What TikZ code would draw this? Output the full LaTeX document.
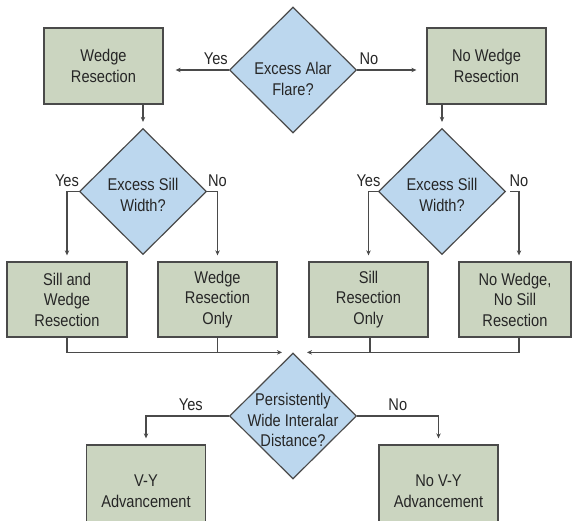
\documentclass[tikz,border=0pt]{standalone}
\usepackage{fontspec}
\setmainfont{Liberation Sans}[FakeStretch=0.86]
\usepackage{tikz}
\usetikzlibrary{shapes.geometric,arrows.meta}

\definecolor{boxgreen}{HTML}{CBD5C0}
\definecolor{diablue}{HTML}{BCD7EE}
\definecolor{edgegray}{HTML}{4A4A4A}
\definecolor{inkgray}{HTML}{262626}

\begin{document}
\begin{tikzpicture}[x=1pt, y=-1pt,
  font=\fontsize{17}{20.5}\selectfont, text=inkgray,
  box/.style={rectangle, draw=edgegray, line width=1.3pt, fill=boxgreen,
    minimum width=119pt, minimum height=76pt, align=center, inner sep=2pt},
  ask/.style={diamond, draw=edgegray, line width=1.2pt, fill=diablue,
    minimum width=127pt, minimum height=126pt, inner sep=0pt},
  asktext/.style={align=center, inner sep=0pt},
  flow/.style={draw=edgegray, line width=1.3pt, -{Stealth[length=5pt,width=4.5pt]}},
  mergeline/.style={draw=edgegray, line width=1.3pt}]
\useasboundingbox (0,0) rectangle (573,521);

% first question
\node[ask] (alar) at (293,70) {};
\node[asktext] (alartext) at (293,79) {Excess Alar\\Flare?};
\node[box] (wedge) at (103.5,66) {Wedge\\Resection};
\node[box] (nowedge) at (486.5,66) {No Wedge\\Resection};

% sill questions
\node[ask] (sillL) at (143,191.5) {};
\node[asktext] (sillLtext) at (143,195) {Excess Sill\\Width?};
\node[ask] (sillR) at (442,191.5) {};
\node[asktext] (sillRtext) at (442,195) {Excess Sill\\Width?};

\node[box, minimum width=120pt, minimum height=75pt] (sillwedge) at (67,299.5) {Sill and\\Wedge\\Resection};
\node[box, minimum height=75pt] (wedgeonly) at (217.5,299.5) {Wedge\\Resection\\Only};
\node[box, minimum height=75pt] (sillonly) at (368.5,299.5) {Sill\\Resection\\Only};
\node[box, minimum width=112pt, minimum height=75pt] (nothing) at (515,299.5) {No Wedge,\\No Sill\\Resection};

% last question
\node[ask] (wide) at (293,416) {};
\node[asktext] (widetext) at (293,420) {Persistently\\Wide Interalar\\Distance?};
\node[box, minimum height=92pt] (vy) at (146,491) {V-Y\\Advancement};
\node[box, minimum height=92pt] (novy) at (438.5,491) {No V-Y\\Advancement};

\draw[flow, shorten >=12pt] (alar.west) -- (alar.west -| wedge.east) node[pos=0.2, above=1pt] {Yes};
\draw[flow, shorten >=10pt] (alar.east) -- (alar.east -| nowedge.west) node[pos=0.17, above=1pt] {No};
\draw[flow, shorten >=6pt] (sillL.north |- wedge.south) -- (sillL.north);
\draw[flow, shorten >=6pt] (sillR.north |- nowedge.south) -- (sillR.north);

\draw[flow, shorten >=6pt] (sillL.west) -| node[pos=0.5, above=1pt] {Yes} (sillwedge.north);
\draw[flow, shorten >=6pt] (sillL.east) -| node[pos=0.5, above=1pt] {No} (wedgeonly.north);
\draw[flow, shorten >=6pt] (sillR.west) -| node[pos=0.5, above=1pt] {Yes} (sillonly.north);
\draw[flow, shorten >=6pt] ([xshift=4pt]sillR.east) -| node[pos=0.5, above=1pt] {No} ([xshift=4pt]nothing.north);

\draw[flow, shorten >=11pt] (sillwedge.south) |- (wide.north);
\draw[mergeline] (wedgeonly.south) -- (wedgeonly.south |- wide.north);
\draw[flow, shorten >=14pt] ([xshift=4pt]nothing.south) |- (wide.north);
\draw[mergeline] ([xshift=1.5pt]sillonly.south) -- ([xshift=1.5pt]sillonly.south |- wide.north);

\draw[flow, shorten >=6pt] (wide.west) -| node[pos=0.23, above=1pt] {Yes} (vy.north);
\draw[flow, shorten >=6pt] (wide.east) -| node[pos=0.25, above=1pt] {No} (novy.north);
\end{tikzpicture}
\end{document}
